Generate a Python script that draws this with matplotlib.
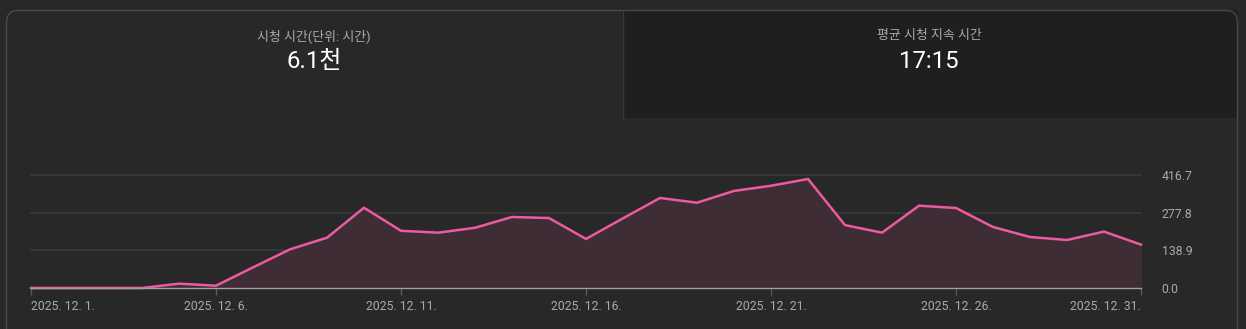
import numpy as np
import matplotlib.pyplot as plt
from matplotlib.patches import FancyBboxPatch, Rectangle

# data
days = list(range(1, 32))
hours = [0, 0, 0, 0, 16, 8.5, 76, 142.6, 185.5, 296, 211, 204, 222, 262, 258, 181,
         257, 332, 314.5, 358, 377, 402, 232, 204, 303.5, 295, 225, 188, 177, 208, 160]
tick_days = [1, 6, 11, 16, 21, 26, 31]
tick_labels = ["2025. 12. %d." % d for d in tick_days]
y_ticks = [0, 138.9, 277.8, 416.7]

titles = ["시청 시간(단위: 시간)", "평균 시청 지속 시간"]
values = ["6.1천", "17:15"]

W, H = 1246, 329
bg = "#282828"
fonts = ["Roboto", "Noto Sans CJK KR", "DejaVu Sans"]
plt.rcParams["font.family"] = fonts

fig = plt.figure(figsize=(W / 100, H / 100), dpi=100, facecolor=bg)

# card + top tiles, drawn in pixel coords
bgax = fig.add_axes([0, 0, 1, 1])
bgax.set_xlim(0, W)
bgax.set_ylim(H, 0)
bgax.axis("off")
bgax.add_patch(Rectangle((622, 10), 616, 108, facecolor="#1f1f1f", edgecolor="none"))
bgax.add_patch(FancyBboxPatch((6.5, 10.5), 1231, 400, boxstyle="round,pad=0,rounding_size=12",
                              facecolor="none", edgecolor="#4a4a4a", lw=1))
bgax.plot([622.5, 622.5], [11, 118], color="#3a3a3a", lw=1)

centers = [314, 929]
for cx, t, v in zip(centers, titles, values):
    bgax.text(cx, 36, t, color="#aaaaaa", fontsize=9.3, ha="center", va="center")
    bgax.text(cx, 62, v, color="white", fontsize=17.3, ha="center", va="center")

# chart
x0, x1, ytop, ybot = 31, 1141, 175, 288
ax = fig.add_axes([x0 / W, 1 - ybot / H, (x1 - x0) / W, (ybot - ytop) / H])
ax.set_facecolor("none")
ax.plot(days, hours, color="#ec5ba1", lw=1.8, zorder=3, clip_on=False)
ax.fill_between(days, hours, 0, color="#3e2d35", zorder=2)
ax.set_xlim(1, 31)
ax.set_ylim(0, 416.7)
for yv in y_ticks[1:]:
    ax.axhline(yv, color="#363636", lw=1.5, zorder=1, clip_on=False)
ax.axhline(0, color="#a0a0a0", lw=1, zorder=4, clip_on=False)
for s in ax.spines.values():
    s.set_visible(False)

ax.set_xticks(tick_days)
ax.set_xticklabels(tick_labels)
ax.tick_params(axis="x", colors="#5a5a5a", length=5, width=1, labelcolor="#aaaaaa",
               labelsize=8.8, pad=4)
lbls = ax.get_xticklabels()
lbls[0].set_ha("left")
lbls[-1].set_ha("right")

ax.yaxis.tick_right()
ax.set_yticks(y_ticks)
ax.set_yticklabels(["%.1f" % v for v in y_ticks])
ax.tick_params(axis="y", length=0, labelcolor="#aaaaaa", labelsize=8.8, pad=15)

fig.savefig("out.png", dpi=100, facecolor=bg)
